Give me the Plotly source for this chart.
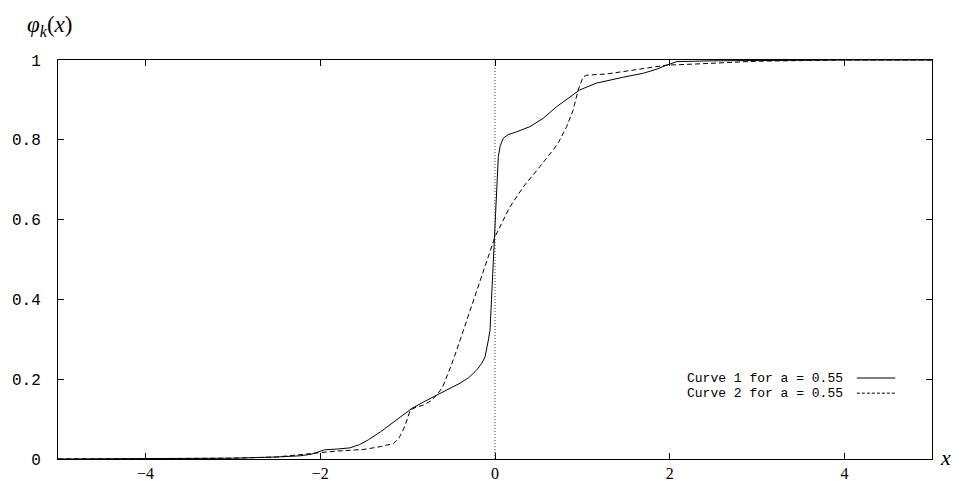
import plotly.graph_objects as go

# Curve 1 (solid)
x1 = [-5, -4, -3, -2.5, -2.23, -2.1, -2.0, -1.95, -1.8, -1.66, -1.55, -1.45, -1.31, -1.12, -0.95,
      -0.8, -0.667, -0.52, -0.4, -0.3, -0.21, -0.15, -0.114, -0.076, -0.057, -0.04, -0.02, 0.0,
      0.02, 0.038, 0.06, 0.095, 0.15, 0.248, 0.4, 0.552, 0.705, 0.857, 0.97, 1.16, 1.31, 1.47,
      1.7, 1.85, 1.95, 2.0, 2.08, 2.5, 3.0, 4.0, 5.0]
y1 = [0.0, 0.0005, 0.002, 0.005, 0.008, 0.012, 0.02, 0.023, 0.025, 0.028, 0.036, 0.048, 0.068,
      0.098, 0.127, 0.145, 0.16, 0.175, 0.19, 0.204, 0.223, 0.24, 0.256, 0.298, 0.323, 0.40,
      0.50, 0.56, 0.68, 0.758, 0.785, 0.804, 0.813, 0.82, 0.833, 0.854, 0.883, 0.908, 0.925,
      0.942, 0.95, 0.957, 0.967, 0.977, 0.986, 0.99, 0.996, 0.998, 0.999, 1.0, 1.0]

# Curve 2 (dashed)
x2 = [-5, -4, -3, -2.5, -2.23, -2.0, -1.8, -1.5, -1.31, -1.16, -1.1, -1.05, -1.0, -0.97, -0.9,
      -0.82, -0.74, -0.667, -0.6, -0.552, -0.5, -0.438, -0.362, -0.3, -0.21, -0.12, -0.057, 0.0,
      0.171, 0.324, 0.514, 0.6, 0.67, 0.73, 0.78, 0.82, 0.895, 0.952, 1.01, 1.05, 1.28, 1.58,
      1.8, 1.96, 2.3, 2.57, 3.0, 4.0, 5.0]
y2 = [0.0, 0.0003, 0.002, 0.005, 0.01, 0.016, 0.02, 0.024, 0.031, 0.039, 0.052, 0.073, 0.102,
      0.123, 0.13, 0.135, 0.145, 0.16, 0.18, 0.206, 0.235, 0.273, 0.323, 0.36, 0.424, 0.48,
      0.524, 0.557, 0.632, 0.682, 0.733, 0.756, 0.776, 0.795, 0.815, 0.833, 0.875, 0.925,
      0.958, 0.962, 0.965, 0.975, 0.982, 0.987, 0.99, 0.993, 0.997, 1.0, 1.0]

legend_labels = ["Curve 1 for a = 0.55", "Curve 2 for a = 0.55"]

mono = "Liberation Mono, Courier New, monospace"
serif = "Liberation Serif, DejaVu Serif, serif"

fig = go.Figure()
fig.add_trace(go.Scatter(x=x1, y=y1, mode="lines", line=dict(color="black", width=1),
                         name=legend_labels[0], showlegend=False))
fig.add_trace(go.Scatter(x=x2, y=y2, mode="lines", line=dict(color="black", width=1, dash="5px,3px"),
                         name=legend_labels[1], showlegend=False))

# dotted vertical line at x=0
fig.add_shape(type="line", xref="x", yref="paper", x0=0, x1=0, y0=0, y1=1,
              line=dict(color="#333333", width=1, dash="1px,2px"))

# legend: text then line sample
leg_y = [0.203, 0.165]
for i, (lab, yy) in enumerate(zip(legend_labels, leg_y)):
    fig.add_annotation(text=lab, xref="paper", yref="paper", x=0.899, y=yy,
                       xanchor="right", yanchor="middle", showarrow=False, borderpad=0,
                       font=dict(family=mono, size=13, color="black"))
    fig.add_shape(type="line", xref="paper", yref="paper", x0=0.914, x1=0.958, y0=yy, y1=yy,
                  line=dict(color="black", width=1, dash="solid" if i == 0 else "3px,2px"))

# axis labels
fig.add_annotation(text="<i>φ<sub>k</sub></i>(<i>x</i>)", xref="paper", yref="paper",
                   x=-0.037, y=1.085, xanchor="left", yanchor="middle", showarrow=False,
                   borderpad=0, font=dict(family=serif, size=23, color="black"))
fig.add_annotation(text="<i>x</i>", xref="paper", yref="paper",
                   x=1.008, y=0.005, xanchor="left", yanchor="middle", showarrow=False,
                   borderpad=0, font=dict(family=serif, size=22, color="black"))

fig.update_xaxes(range=[-5, 5], tick0=0, dtick=2, ticks="inside", ticklen=6, tickcolor="black",
                 showline=True, linecolor="black", linewidth=1, mirror="ticks",
                 showgrid=False, zeroline=False, automargin=False,
                 tickfont=dict(family=serif, size=16, color="black"), ticklabelstandoff=0)
fig.update_yaxes(range=[0, 1], tick0=0, dtick=0.2, ticks="inside", ticklen=6, tickcolor="black",
                 showline=True, linecolor="black", linewidth=1, mirror="ticks",
                 showgrid=False, zeroline=False, automargin=False,
                 tickfont=dict(family=mono, size=16, color="black"), ticklabelstandoff=13)

# page body has an 8px margin, so the figure is 8px smaller than the window
fig.update_layout(width=953, height=473, margin=dict(l=50, r=29, t=52, b=22),
                  plot_bgcolor="white", paper_bgcolor="white", showlegend=False)

fig.write_html("out.html")
